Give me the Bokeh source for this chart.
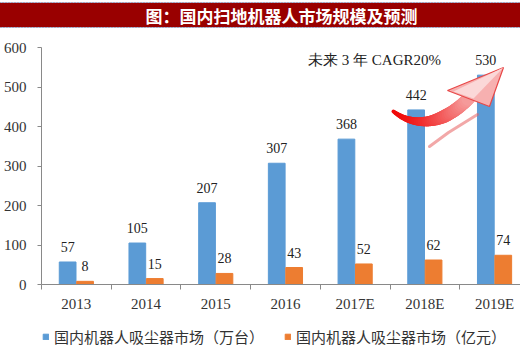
import numpy as np
from bokeh.plotting import figure
from bokeh.models import (ColumnDataSource, Range1d, FixedTicker, LabelSet,
                          Legend, LegendItem, Label, Title)
from bokeh.layouts import column
from bokeh.embed import file_html
from bokeh.resources import INLINE
from bokeh.core.properties import value
from bokeh.transform import dodge

# ---------------- data ----------------
categories = ["2013", "2014", "2015", "2016", "2017E", "2018E", "2019E"]
units = [57, 105, 207, 307, 368, 442, 530]      # 万台
revenue = [8, 15, 28, 43, 52, 62, 74]           # 亿元
y_ticks = [0, 100, 200, 300, 400, 500, 600]
series_names = ["国内机器人吸尘器市场（万台）", "国内机器人吸尘器市场（亿元）"]
title_text = "图：国内扫地机器人市场规模及预测"
note_text = "未来 3 年 CAGR20%"

BLUE = "#5B9BD5"
ORANGE = "#ED7D31"
SERIF = "Liberation Serif"
CJK = "Noto Sans CJK SC"

n = len(categories)
xc = [float(i) + 0.5 for i in range(n)]
src = ColumnDataSource(dict(x=xc, units=units, revenue=revenue,
                            ul=[str(v) for v in units], rl=[str(v) for v in revenue]))

PX_PER_CAT = 69.7
PX_PER_UNIT = 237 / 600.0
FRAME_H = 257
y_top = FRAME_H / PX_PER_UNIT

p = figure(frame_width=480, frame_height=FRAME_H, x_range=Range1d(0, 480 / PX_PER_CAT),
           y_range=Range1d(0, y_top), toolbar_location=None, output_backend="svg",
           min_border_left=40, min_border_right=0, min_border_top=0, min_border_bottom=30)
p.grid.visible = False
p.outline_line_color = None

# ---------------- title bar ----------------
p.title = Title(text=title_text, align="center", offset=-20, standoff=0,
                text_color="white", text_font=CJK, text_font_style="bold",
                text_font_size="17px", background_fill_color="#990000",
                border_line_color="#9DC3E6", border_line_dash="2 1",
                padding=(250, 250, 0, 0))

# ---------------- bars ----------------
b1 = p.vbar(x=dodge("x", -0.125), top="units", width=0.24, color=BLUE, source=src)
b2 = p.vbar(x=dodge("x", 0.125), top="revenue", width=0.24, color=ORANGE, source=src)

lab_kw = dict(text_font=value(SERIF), text_font_size="14px", text_color="#222222",
              text_align="center", text_baseline="bottom", y_offset=10, source=src)
p.add_layout(LabelSet(x="x", y="units", text="ul", x_offset=-8.7, **lab_kw))
p.add_layout(LabelSet(x="x", y="revenue", text="rl", x_offset=8.7, **lab_kw))

# axes
ya = p.yaxis[0]
ya.ticker = FixedTicker(ticks=y_ticks)
ya.bounds = (0, 600)
ya.axis_line_color = "#898989"
ya.major_tick_line_color = "#898989"
ya.major_tick_out = 4
ya.major_tick_in = 0
ya.minor_tick_line_color = None
ya.major_label_standoff = 11
ya.major_label_text_font = SERIF
ya.major_label_text_font_size = "15px"
ya.major_label_text_color = "#333333"

xa = p.xaxis[0]
xa.ticker = FixedTicker(ticks=xc, minor_ticks=[float(i) for i in range(n + 1)])
xa.major_label_overrides = {x: c for x, c in zip(xc, categories)}
xa.axis_line_color = "#898989"
xa.major_tick_line_color = None
xa.major_tick_out = 5
xa.major_tick_in = 0
xa.minor_tick_line_color = "#898989"
xa.minor_tick_out = 5
xa.minor_tick_in = 0
xa.major_label_standoff = 6
xa.major_label_text_font = SERIF
xa.major_label_text_font_size = "15px"
xa.major_label_text_color = "#333333"

# ---------------- CAGR annotation ----------------
def dx(xp):
    return (xp - 40) / PX_PER_CAT

def dy(yp):
    return (285 - yp) / PX_PER_UNIT

p.add_layout(Label(x=dx(373), y=dy(60), text=note_text, text_font=SERIF,
                   text_font_size="15px", text_color="#222222",
                   text_align="center", text_baseline="middle"))

# curved arrow body (tapered, red -> pink)
t = np.linspace(0, 1, 40)
P = np.array([[392, 112], [418, 132], [447, 120], [468, 98]], dtype=float)
bx = ((1 - t) ** 3) * P[0, 0] + 3 * ((1 - t) ** 2) * t * P[1, 0] + 3 * (1 - t) * t ** 2 * P[2, 0] + t ** 3 * P[3, 0]
by = ((1 - t) ** 3) * P[0, 1] + 3 * ((1 - t) ** 2) * t * P[1, 1] + 3 * (1 - t) * t ** 2 * P[2, 1] + t ** 3 * P[3, 1]
c0 = np.array([240, 10, 10])
c1 = np.array([246, 160, 160])
for i in range(len(t) - 1):
    f = t[i]
    col = "#%02x%02x%02x" % tuple((c0 + (c1 - c0) * f ** 1.5).astype(int))
    w = 4 + 9 * min(1.0, f * 1.6)
    p.line(x=[dx(bx[i]), dx(bx[i + 1])], y=[dy(by[i]), dy(by[i + 1])],
           line_color=col, line_width=w, line_cap="round")
# arrow head
p.patch(x=[dx(446), dx(502), dx(488)], y=[dy(91), dy(68), dy(107)],
        fill_color="#f7b0b0", line_color="#e84848", line_width=1.2)
p.patch(x=[dx(452), dx(502), dx(472)], y=[dy(92), dy(68), dy(99)],
        fill_color="#fbd8d8", line_color=None)
# faint lower streak
p.line(x=[dx(428), dx(447), dx(476)], y=[dy(147), dy(133), dy(115)],
       line_color="#e86060", line_alpha=0.55, line_width=3, line_cap="round")

# ---------------- legend strip ----------------
lf = figure(width=520, height=37, x_range=Range1d(0, 1), y_range=Range1d(0, 1),
            toolbar_location=None, output_backend="svg", min_border=0,
            x_axis_location=None, y_axis_location=None)
lf.grid.visible = False
lf.outline_line_color = None
g1 = lf.vbar(x=[-5], top=[-5], width=0.1, color=BLUE)
g2 = lf.vbar(x=[-5], top=[-5], width=0.1, color=ORANGE)
legend = Legend(items=[LegendItem(label=series_names[0], renderers=[g1]),
                       LegendItem(label=series_names[1], renderers=[g2])],
                orientation="horizontal", location=(1, 4),
                glyph_width=7, glyph_height=7, label_standoff=5, spacing=20,
                label_text_font=CJK, label_text_font_size="15px",
                label_text_color="#333333", border_line_color=None,
                background_fill_alpha=0, padding=0, margin=0)
lf.add_layout(legend)

page = column(p, lf, spacing=0)
open("out.html", "w").write(file_html(page, INLINE))
